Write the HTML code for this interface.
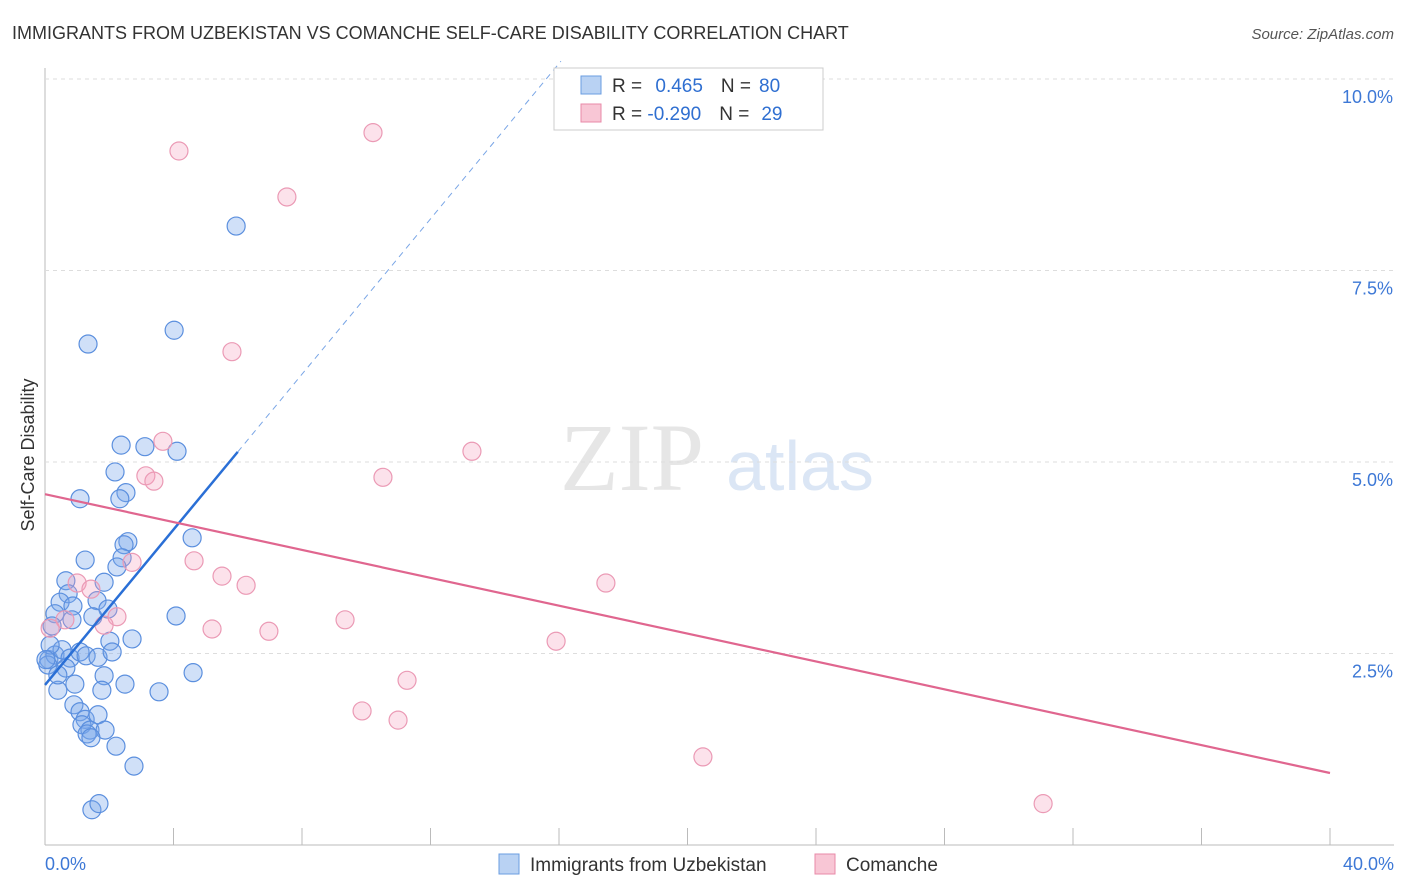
<!DOCTYPE html>
<html><head><meta charset="utf-8"><style>
body{margin:0;background:#fff;font-family:"Liberation Sans",sans-serif}
svg{display:block}
</style></head><body>
<svg id="chart" width="1406" height="892">
<text x="12" y="39" font-size="18" fill="#333">IMMIGRANTS FROM UZBEKISTAN VS COMANCHE SELF-CARE DISABILITY CORRELATION CHART</text>
<text x="1394" y="39" font-size="15" fill="#555" font-style="italic" text-anchor="end">Source: ZipAtlas.com</text>
<text x="632" y="490" font-size="96" fill="#e6e6e6" font-family="Liberation Serif" text-anchor="middle">ZIP</text>
<text x="800" y="490" font-size="70" fill="#dbe6f5" text-anchor="middle">atlas</text>
<text transform="translate(34,455) rotate(-90)" font-size="18" fill="#333" text-anchor="middle">Self-Care Disability</text>
<g id="grid"></g><g id="marks"></g>
<g>
<rect x="554" y="68" width="269" height="62" fill="#fff" stroke="#ccc"/>
<rect x="581" y="76" width="20" height="18" fill="#b9d2f3" stroke="#6a9de0"/>
<rect x="581" y="104" width="20" height="18" fill="#f8c6d5" stroke="#e88aa8"/>
<text x="612" y="92" font-size="19" fill="#333">R = <tspan fill="#2f6fd1" dx="8">0.465</tspan><tspan dx="18" fill="#333">N =</tspan><tspan dx="8" fill="#2f6fd1">80</tspan></text>
<text x="612" y="120" font-size="19" fill="#333">R = <tspan fill="#2f6fd1">-0.290</tspan><tspan dx="18" fill="#333">N =</tspan><tspan dx="12" fill="#2f6fd1">29</tspan></text>
</g>
<g>
<rect x="499" y="854" width="20" height="20" fill="#b9d2f3" stroke="#6a9de0"/>
<text x="530" y="871" font-size="19" fill="#333">Immigrants from Uzbekistan</text>
<rect x="815" y="854" width="20" height="20" fill="#f8c6d5" stroke="#e88aa8"/>
<text x="846" y="871" font-size="19" fill="#333">Comanche</text>
</g>
</svg>
<script>
const xTicks=[0,5,10,15,20,25,30,35,40];
const yTicks=[2.5,5.0,7.5,10.0];
const blueX=[5.95,4.02,1.34,2.37,3.11,4.11,2.18,2.52,2.33,1.09,4.58,2.58,2.46,1.25,2.40,2.24,0.65,1.84,0.72,0.47,0.87,1.62,1.96,0.31,0.84,1.49,4.08,0.22,2.02,2.71,0.12,0.31,0.53,0.78,1.09,1.28,1.65,2.09,0.65,1.84,2.49,0.40,0.93,1.77,3.55,4.61,0.90,1.09,1.25,1.65,1.15,1.40,1.31,1.87,1.43,2.21,2.77,1.46,1.68,0.16,0.09,0.40,0.03];
const blueY=[8.08,6.72,6.54,5.22,5.20,5.14,4.87,4.60,4.52,4.52,4.01,3.96,3.92,3.72,3.75,3.63,3.45,3.43,3.28,3.17,3.12,3.19,3.08,3.02,2.94,2.98,2.99,2.86,2.66,2.69,2.42,2.48,2.55,2.44,2.52,2.47,2.45,2.52,2.31,2.21,2.10,2.02,2.10,2.02,2.00,2.25,1.83,1.74,1.64,1.70,1.57,1.50,1.45,1.50,1.40,1.29,1.03,0.46,0.54,2.61,2.35,2.22,2.42];
const pinkX=[10.21,4.17,7.53,5.82,3.67,13.29,3.14,3.39,10.52,2.71,4.64,5.51,6.26,17.46,1.00,1.43,2.24,0.62,1.84,5.20,6.97,9.34,15.91,11.27,9.87,10.99,20.48,31.07,0.16];
const pinkY=[9.30,9.06,8.46,6.44,5.27,5.14,4.82,4.75,4.80,3.69,3.71,3.51,3.39,3.42,3.42,3.34,2.98,2.94,2.87,2.82,2.79,2.94,2.66,2.15,1.75,1.63,1.15,0.54,2.83];
const blueTrend=[2.09,0.507]; // intercept, slope
const blueSolidEnd=6.0, blueDashEnd=16.06;
const pinkTrend=[4.58,-0.091];
const NS="http://www.w3.org/2000/svg";
const sx=v=>45+v/40*1285, sy=v=>845-v*76.6;
function mk(tag,attrs,parent){const e=document.createElementNS(NS,tag);for(const k in attrs)e.setAttribute(k,attrs[k]);parent.appendChild(e);return e;}
const grid=document.getElementById('grid'), marks=document.getElementById('marks');
let l=mk('line',{x1:45,y1:68,x2:45,y2:845,stroke:'#bbb'},grid);


l=mk('line',{x1:45,y1:845,x2:1394,y2:845,stroke:'#bbb'},grid);


yTicks.forEach(t=>{const g=mk('line',{x1:45,y1:sy(t),x2:1394,y2:sy(t),stroke:'#ddd','stroke-dasharray':'4 4'},grid);


const tx=mk('text',{x:1393,y:sy(t)+24,'font-size':18,fill:'#3d78d6','text-anchor':'end'},grid);tx.textContent=t.toFixed(1)+'%';

});
for(let i=0;i<=10;i++){const x=45+i*128.5;const t=mk('line',{x1:x,y1:828,x2:x,y2:845,stroke:'#bbb'},grid);

}
[[0,'0.0%','start',45],[40,'40.0%','end',1394]].forEach(a=>{const tx=mk('text',{x:a[3],y:870,'font-size':18,fill:'#3d78d6','text-anchor':a[2]},grid);tx.textContent=a[1];

});
blueX.forEach((v,i)=>{const c=mk('circle',{cx:sx(v),cy:sy(blueY[i]),r:9,fill:'rgba(120,165,235,0.35)',stroke:'#5b8fde','stroke-width':1.2},marks);

});
pinkX.forEach((v,i)=>{const c=mk('circle',{cx:sx(v),cy:sy(pinkY[i]),r:9,fill:'rgba(245,160,190,0.3)',stroke:'#eb9ab5','stroke-width':1.2},marks);

});
const by=x=>blueTrend[0]+blueTrend[1]*x, py=x=>pinkTrend[0]+pinkTrend[1]*x;
l=mk('line',{x1:sx(0),y1:sy(by(0)),x2:sx(blueSolidEnd),y2:sy(by(blueSolidEnd)),stroke:'#2a6fd6','stroke-width':2.5},marks);


l=mk('line',{x1:sx(blueSolidEnd),y1:sy(by(blueSolidEnd)),x2:sx(blueDashEnd),y2:sy(by(blueDashEnd)),stroke:'#7aa6e6','stroke-width':1,'stroke-dasharray':'6 5'},marks);


l=mk('line',{x1:sx(0),y1:sy(py(0)),x2:sx(40),y2:sy(py(40)),stroke:'#e0668f','stroke-width':2.2},marks);


</script>
</body></html>
